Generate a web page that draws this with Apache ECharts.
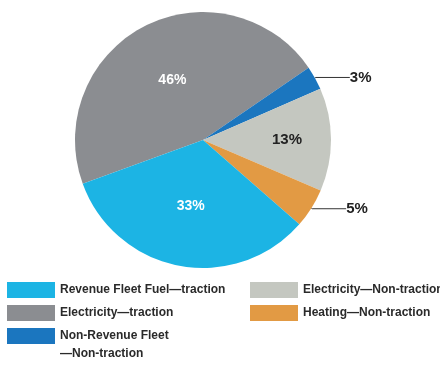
<!DOCTYPE html>
<html>
<head>
<meta charset="utf-8">
<script src="https://cdn.jsdelivr.net/npm/echarts@6/dist/echarts.min.js"></script>
<style>
  html, body { margin: 0; padding: 0; background: #ffffff; }
  #chart { width: 440px; height: 366px; }
</style>
</head>
<body>
<div id="chart"></div>
<script>
// Energy use shares, listed clockwise around the pie
const categories = [
  'Electricity\u2014traction',
  'Non-Revenue Fleet\n\u2014Non-traction',
  'Electricity\u2014Non-traction',
  'Heating\u2014Non-traction',
  'Revenue Fleet Fuel\u2014traction'
];
const shares = [46, 3, 13, 5, 33];
const sliceColors = ['#8b8d91', '#1b76bf', '#c4c7c0', '#e29a44', '#1cb4e4'];

// Legend columns
const legendLeftTop = [categories[4], categories[0]];
const legendLeftBottom = [categories[1]];
const legendRight = [categories[2], categories[3]];

const FONT = '"Liberation Sans", Arial, sans-serif';

const insideWhite = { show: true, position: 'inside', formatter: '{c}%', color: '#ffffff', fontSize: 14, fontWeight: 'bold', fontFamily: FONT };
const insideDark = { show: true, position: 'inside', formatter: '{c}%', color: '#222222', fontSize: 15, fontWeight: 'bold', fontFamily: FONT, padding: [0, 0, 0, 34] };
const outsideDark = { show: true, position: 'outside', formatter: '{c}%', color: '#222222', fontSize: 15, fontWeight: 'bold', fontFamily: FONT, distanceToLabelLine: 0 };

const labelFor = [insideWhite, outsideDark, insideDark, outsideDark, insideWhite];

const data = categories.map((name, i) => ({
  name: name,
  value: shares[i],
  itemStyle: { color: sliceColors[i] },
  label: labelFor[i],
  labelLine: { show: labelFor[i] === outsideDark, length: 1, length2: 34, lineStyle: { color: '#333333', width: 1 } }
}));

function legendStyle() {
  return {
    orient: 'vertical',
    itemWidth: 48,
    itemHeight: 16,
    itemGap: 7,
    icon: 'rect',
    padding: 0,
    textStyle: { fontFamily: FONT, fontSize: 12, color: '#2a2a2a', fontWeight: 'bold', lineHeight: 16 },
    selectedMode: false
  };
}

// Two-line entry: a blank leading line keeps the first text line level with the swatch
const twoLine = legendStyle();
twoLine.textStyle.lineHeight = 18;
twoLine.formatter = name => ' \n' + name;

const chart = echarts.init(document.getElementById('chart'), null, { renderer: 'canvas' });
chart.setOption({
  backgroundColor: '#ffffff',
  animation: false,
  legend: [
    Object.assign({ left: 7, top: 282, data: legendLeftTop }, legendStyle()),
    Object.assign({ left: 7, top: 309, data: legendLeftBottom }, twoLine),
    Object.assign({ left: 250, top: 282, data: legendRight }, legendStyle())
  ],
  series: [{
    type: 'pie',
    center: [203, 140],
    radius: [0, 128],
    startAngle: 200,
    clockwise: true,
    avoidLabelOverlap: false,
    itemStyle: { borderWidth: 0 },
    data: data
  }]
});
</script>
</body>
</html>
